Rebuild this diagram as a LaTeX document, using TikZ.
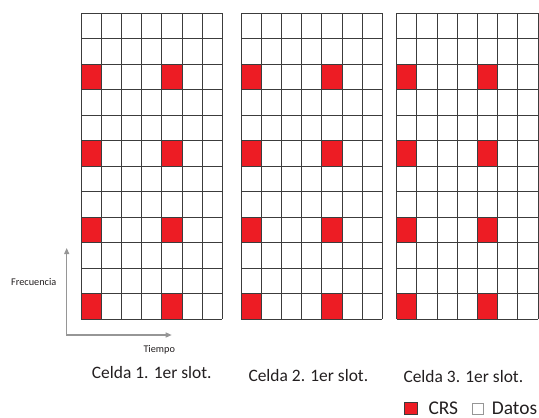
\documentclass[tikz,border=0pt]{standalone}
\usepackage{fontspec}
\setmainfont{Carlito}
\usetikzlibrary{arrows.meta}
\definecolor{crsred}{RGB}{237,28,36}
\definecolor{gridline}{RGB}{60,60,60}
\definecolor{axisgray}{RGB}{150,150,150}
\definecolor{txtcol}{RGB}{35,31,32}
\tikzset{
  gridstroke/.style={draw=gridline, line width=0.9bp},
  crscell/.style={fill=crsred},
  axisline/.style={draw=axisgray, line width=1.1bp, {Triangle[length=6bp,width=5bp]}-{Triangle[length=6bp,width=5bp]}},
  smalltxt/.style={inner sep=0pt, anchor=base west, text=txtcol, font=\fontsize{10.3}{12}\selectfont},
  captiontxt/.style={inner sep=0pt, anchor=base west, text=txtcol, font=\fontsize{17.5}{20}\selectfont},
  legendtxt/.style={inner sep=0pt, anchor=base west, text=txtcol, font=\fontsize{19.5}{23}\selectfont},
}
\begin{document}
\begin{tikzpicture}[x=1bp,y=-1bp]
\useasboundingbox (0,0) rectangle (539,417);
\def\cw{20.19}
\def\rh{25.5}
\def\gtop{13.3}
\foreach \gx/\gname in {81/g1, 241/g2, 396.7/g3} {
  % CRS cells
  \foreach \r in {2,5,8,11} {
    \foreach \c in {0,4} {
      \fill[crscell] (\gx+\c*\cw, \gtop+\r*\rh) rectangle (\gx+\c*\cw+\cw, \gtop+\r*\rh+\rh);
    }
  }
  % grid
  \foreach \c in {0,...,7} {
    \draw[gridstroke] (\gx+\c*\cw, \gtop) -- (\gx+\c*\cw, \gtop+12*\rh);
  }
  \foreach \r in {0,...,12} {
    \draw[gridstroke] (\gx, \gtop+\r*\rh) -- (\gx+7*\cw, \gtop+\r*\rh);
  }
}
% axes
\coordinate (ftop) at (66.7,248);
\coordinate (tend) at (171.7,335);
\draw[axisline] (ftop) |- (tend);
\node[smalltxt] (frec) at (11,285.5) {Frecuencia};
\node[smalltxt] (tiempo) at (143.3,352) {Tiempo};
% captions
\node[captiontxt] (c1) at (91.7,378) {Celda 1. 1er slot.};
\node[captiontxt] (c2) at (248.3,381) {Celda 2. 1er slot.};
\node[captiontxt] (c3) at (403.3,382) {Celda 3. 1er slot.};
% legend
\fill[crscell, draw=gridline, line width=0.4bp] (404,401.8) rectangle (417,414.5);
\node[legendtxt] (crs) at (428.3,414.3) {CRS};
\draw[draw=axisgray, line width=0.6bp, fill=white] (472.7,403) rectangle (483.3,414);
\node[legendtxt] (datos) at (491.7,414.3) {Datos};
\end{tikzpicture}
\end{document}
